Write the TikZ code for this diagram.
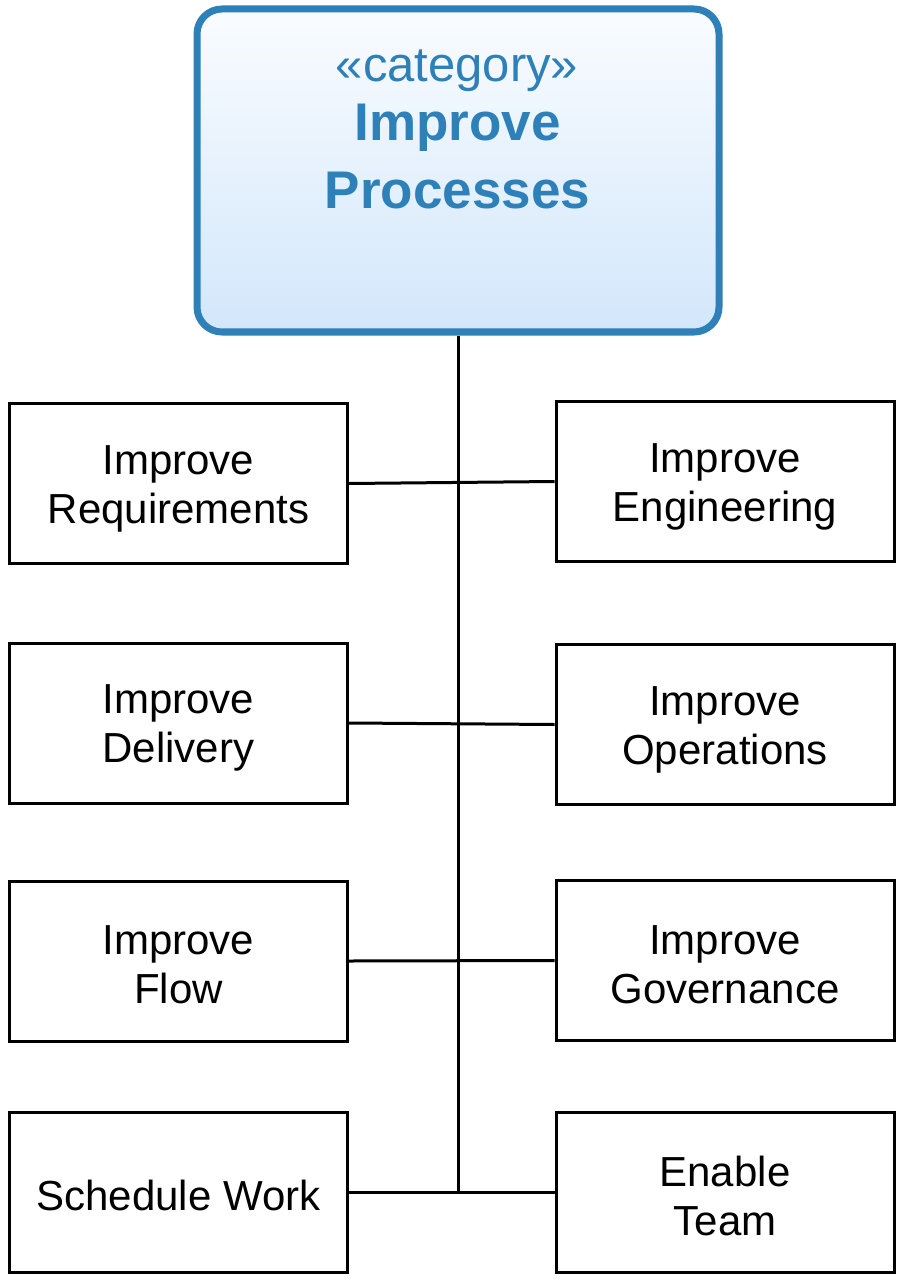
\documentclass[tikz,border=0pt]{standalone}
\usepackage{fontspec}
\setmainfont{Liberation Sans}
\definecolor{catblue}{RGB}{46,128,184}
\definecolor{fillTop}{RGB}{250,252,255}
\definecolor{fillBot}{RGB}{210,231,251}
\begin{document}
\begin{tikzpicture}[x=0.5pt,y=-0.5pt,
  procbox/.style={draw=black, line width=1.5pt, minimum width=169pt, minimum height=80pt,
    inner sep=0pt},
  boxtext/.style={inner sep=0pt, align=center, font=\fontsize{21pt}{24.5pt}\selectfont},
  catbox/.style={draw=catblue, line width=3.5pt, rounded corners=12.5pt,
    top color=fillTop, bottom color=fillBot, minimum width=261pt, minimum height=161.5pt, inner sep=0pt},
  cattext/.style={text=catblue, anchor=base, inner sep=0pt},
  link/.style={draw=black, line width=1.5pt}]
\useasboundingbox (0,0) rectangle (904,1283);
\node[catbox] (top) at (458,170.5) {};
\node[cattext, font=\fontsize{24.5pt}{28pt}\selectfont] (stereo) at (457,82) {«category»};
\node[cattext, font=\fontsize{26.5pt}{30pt}\selectfont\bfseries] (titleA) at (457.5,141) {Improve};
\node[cattext, font=\fontsize{26.5pt}{30pt}\selectfont\bfseries] (titleB) at (457.5,209) {Processes};

\node[procbox] (req) at (178.5,483.5) {};
\node[procbox] (del) at (178.5,723) {};
\node[procbox] (flow) at (178.5,961) {};
\node[procbox] (sched) at (178.5,1192.5) {};
\node[procbox] (eng) at (725,481.5) {};
\node[procbox] (ops) at (725,724.5) {};
\node[procbox] (gov) at (725,960.5) {};
\node[procbox] (team) at (725,1192.5) {};

\node[boxtext] (reqT) at ([yshift=-2.5pt]req.center) {Improve\\Requirements};
\node[boxtext] (delT) at ([yshift=-2.5pt]del.center) {Improve\\Delivery};
\node[boxtext] (flowT) at ([yshift=-2pt]flow.center) {Improve\\Flow};
\node[boxtext] (schedT) at ([yshift=-1.5pt]sched.center) {Schedule Work};
\node[boxtext] (engT) at ([yshift=-2.5pt]eng.center) {Improve\\Engineering};
\node[boxtext] (opsT) at ([yshift=-2.5pt]ops.center) {Improve\\Operations};
\node[boxtext] (govT) at ([yshift=-2pt]gov.center) {Improve\\Governance};
\node[boxtext] (teamT) at ([yshift=-1.5pt]team.center) {Enable\\Team};

\coordinate (trunkEnd) at (458,1192.5);
\draw[link] (top.south) -- (trunkEnd);
\draw[link] (req.east) -- (eng.west);
\draw[link] (del.east) -- (ops.west);
\draw[link] (flow.east) -- (gov.west);
\draw[link] (sched.east) -- (team.west);
\end{tikzpicture}
\end{document}
